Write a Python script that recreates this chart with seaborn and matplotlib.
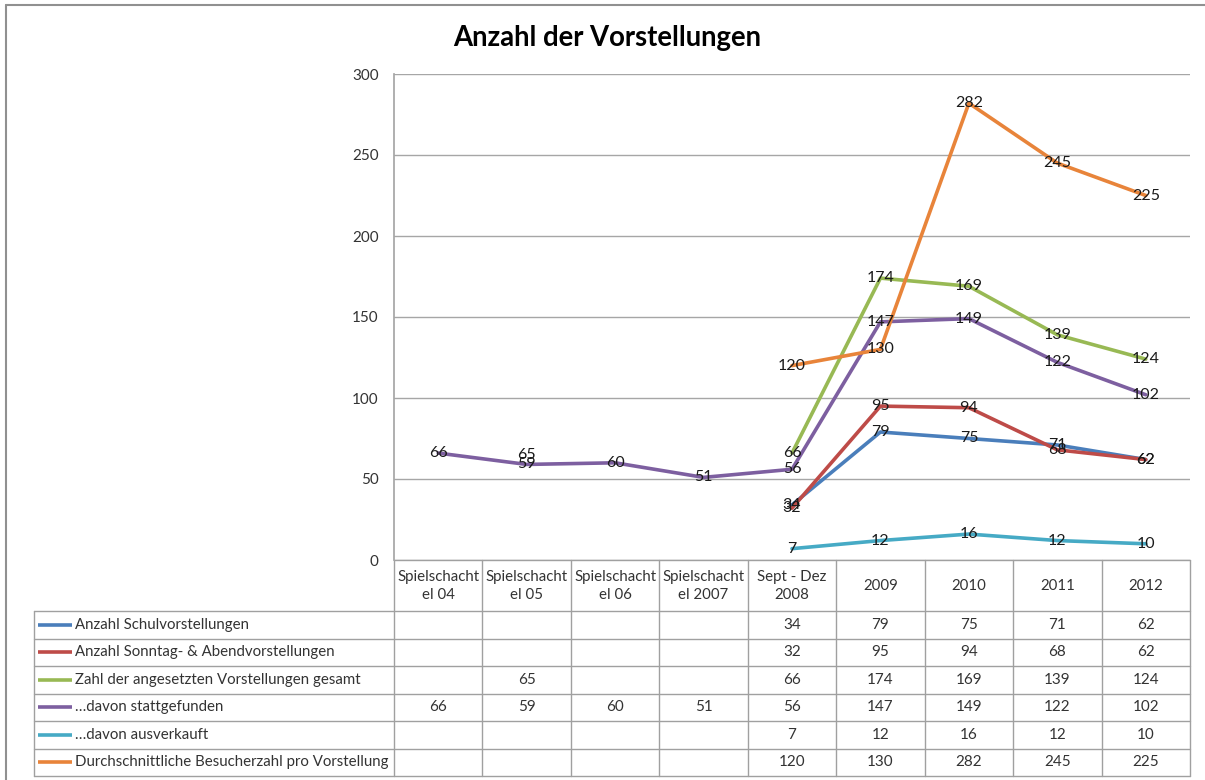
import numpy as np
import pandas as pd
import seaborn as sns
import matplotlib.pyplot as plt

categories = ["Spielschacht\nel 04", "Spielschacht\nel 05", "Spielschacht\nel 06",
              "Spielschacht\nel 2007", "Sept - Dez\n2008", "2009", "2010", "2011", "2012"]
series_names = ["Anzahl Schulvorstellungen",
                "Anzahl Sonntag- & Abendvorstellungen",
                "Zahl der angesetzten Vorstellungen gesamt",
                "…davon stattgefunden",
                "…davon ausverkauft",
                "Durchschnittliche Besucherzahl pro Vorstellung"]
nan = np.nan
schul = [nan, nan, nan, nan, 34, 79, 75, 71, 62]
sonntag = [nan, nan, nan, nan, 32, 95, 94, 68, 62]
gesamt = [nan, 65, nan, nan, 66, 174, 169, 139, 124]
stattgefunden = [66, 59, 60, 51, 56, 147, 149, 122, 102]
ausverkauft = [nan, nan, nan, nan, 7, 12, 16, 12, 10]
besucher = [nan, nan, nan, nan, 120, 130, 282, 245, 225]
all_values = [schul, sonntag, gesamt, stattgefunden, ausverkauft, besucher]
colors = ["#4A7EBB", "#BE4B48", "#98B954", "#7D5FA0", "#46AAC5", "#E8843A"]

# long table, split into contiguous runs so gaps are not bridged
rows = []
for name, vals in zip(series_names, all_values):
    run = 0
    prev_ok = False
    for i, v in enumerate(vals):
        if np.isnan(v):
            prev_ok = False
            continue
        if not prev_ok:
            run += 1
        rows.append({"series": name, "pos": i, "value": v, "run": f"{name}-{run}"})
        prev_ok = True
df = pd.DataFrame(rows)
palette = dict(zip(series_names, colors))

sns.set_theme(style="white")
plt.rcParams["font.family"] = ["Lato", "DejaVu Sans"]

W, H = 1205, 780
fig = plt.figure(figsize=(W / 100, H / 100), dpi=100)
bg = fig.add_axes([0, 0, 1, 1])
bg.set_xlim(0, W)
bg.set_ylim(H, 0)
bg.axis("off")

ax = fig.add_axes([394 / W, 1 - 560 / H, (1190 - 394) / W, (560 - 74) / H])
ax.patch.set_alpha(0)
sns.lineplot(data=df, x="pos", y="value", hue="series", units="run", estimator=None,
             palette=palette, linewidth=2.6, legend=False, ax=ax)

for name, vals in zip(series_names, all_values):
    for i, v in enumerate(vals):
        if not np.isnan(v):
            ax.text(i, v, f"{v:.0f}", ha="center", va="center", fontsize=11.5,
                    color="#1a1a1a", zorder=5)

ax.set_xlim(-0.5, 8.5)
ax.set_ylim(0, 300)
ax.set_yticks(range(0, 301, 50))
ax.set_xticks([])
ax.set_xlabel("")
ax.set_ylabel("")
ax.grid(axis="y", color="#a6a6a6", linewidth=1)
for s in ["top", "right", "bottom"]:
    ax.spines[s].set_visible(False)
ax.spines["left"].set_color("#a6a6a6")
ax.tick_params(axis="y", length=0, pad=11, labelsize=11, labelcolor="#333333")

# title
bg.text(607, 38, "Anzahl der Vorstellungen", ha="center", va="center",
        fontsize=19.8, fontweight="bold", color="black")

# data table
line_c = "#a0a0a0"
col_edges = np.linspace(394, 1190, len(categories) + 1)
row_edges = np.linspace(611, 776, len(series_names) + 1)
bg.plot([394, 1190], [560, 560], color=line_c, lw=1)
for x in col_edges:
    bg.plot([x, x], [560, 776], color=line_c, lw=1)
bg.plot([34, 34], [611, 776], color=line_c, lw=1)
for y in row_edges:
    bg.plot([34, 1190], [y, y], color=line_c, lw=1)

for j, cat in enumerate(categories):
    cx = (col_edges[j] + col_edges[j + 1]) / 2
    bg.text(cx, 586, cat, ha="center", va="center", fontsize=10.8,
            color="#333333", linespacing=1.35)

for k, (name, vals) in enumerate(zip(series_names, all_values)):
    cy = (row_edges[k] + row_edges[k + 1]) / 2
    bg.plot([38, 72], [cy, cy], color=colors[k], lw=2.6, solid_capstyle="butt")
    bg.text(75, cy, name, ha="left", va="center", fontsize=10.8, color="#333333")
    for j, v in enumerate(vals):
        if not np.isnan(v):
            cx = (col_edges[j] + col_edges[j + 1]) / 2
            bg.text(cx, cy, f"{v:.0f}", ha="center", va="center", fontsize=11,
                    color="#333333")

# outer chart frame (top and left edges visible)
bg.plot([6, W], [5, 5], color="#909090", lw=1.5)
bg.plot([6, 6], [5, H], color="#909090", lw=1.5)

fig.savefig("out.png", dpi=100)
